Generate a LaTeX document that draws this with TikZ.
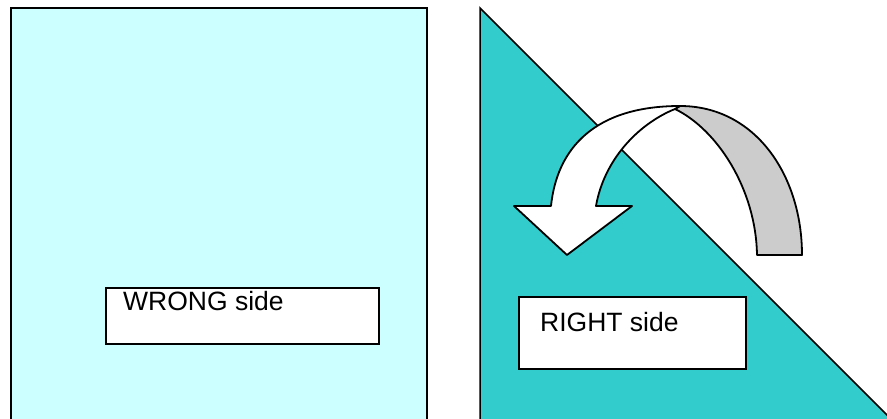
\documentclass[tikz,border=0pt]{standalone}
\usepackage{fontspec}
\setmainfont{Liberation Sans}
\usetikzlibrary{calc, positioning}
\definecolor{paleside}{HTML}{CCFFFF}
\definecolor{tealside}{HTML}{33CCCC}
\definecolor{backfold}{HTML}{CCCCCC}

\begin{document}
\begin{tikzpicture}[
    x=1pt, y=-1pt,
    sidebox/.style={draw, fill=white, line width=2pt, anchor=north west, inner sep=0pt},
    sidetext/.style={anchor=base west, inner sep=0pt, font=\fontsize{26.5}{31}\selectfont},
    flip/.style={draw, line width=1.8pt, line join=round}
]
\useasboundingbox (0,0) rectangle (887,419);
\clip (0,0) rectangle (887,419);

% Sheets
\draw[fill=paleside, line width=2pt] (11,8) rectangle (427,430);
\draw[fill=tealside, line width=1.5pt] (480,8) -- (480,430) -- (902,430) -- cycle;

% Labels
\node[sidebox, minimum width=273, minimum height=56] (wrongbox) at (105,287) {};
\node[sidetext] (wrongtext) at ($(wrongbox.north west)+(18,24)$) {WRONG side};
\node[sidebox, minimum width=227, minimum height=72] (rightbox) at (518,296) {};
\node[sidetext] (righttext) at ($(rightbox.north west)+(22,36)$) {RIGHT side};

% Fold arrow
\draw[flip, fill=backfold] (675,109) -- (680,106) .. controls (755,106) and (802,175) .. (802,255)
    -- (757,255) .. controls (756,190) and (718,130) .. (675,109) -- cycle;
\draw[flip, fill=white] (551,206) .. controls (557,148) and (595,106) .. (680,106) -- (675,109)
    .. controls (638,124) and (604,160) .. (596,206) -- (632,206) -- (567,255) -- (514,206) -- cycle;

\end{tikzpicture}
\end{document}
